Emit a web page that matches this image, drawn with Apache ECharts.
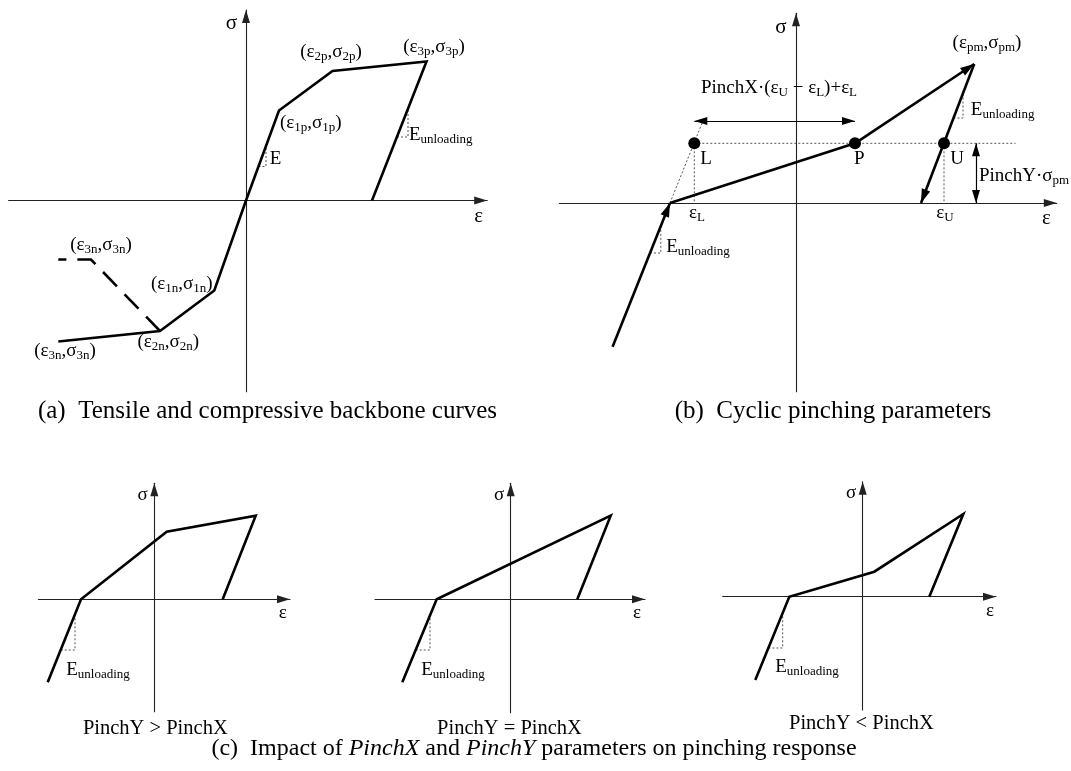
<!DOCTYPE html>
<html><head><meta charset="utf-8">
<script src="https://cdn.jsdelivr.net/npm/echarts@6/dist/echarts.min.js"></script>
<style>html,body{margin:0;padding:0;background:#fff}#c{width:1071px;height:771px}</style>
</head><body><div id="c"></div>
<script>
// ===== DATA (schematic strain / stress units, origin of each panel = 0,0) =====
// (a) Tensile and compressive backbone curves
const aTension        = [[0,0],[33,90],[86.5,129.5],[180.5,139],[126,0]];
const aCompression    = [[0,0],[-31.7,-90],[-86,-130.5],[-187.7,-141]];
const aCompressionAlt = [[-86,-130.5],[-155,-59],[-187.7,-59]];
const aSlopeE         = [[12.5,34],[20,34],[20,54.5]];
const aSlopeEunload   = [[151,63.5],[162,63.5],[162,91.8]];
const aAxisNames      = [[-14.6,177,'σ'],[232.6,-16,'ε']];
const aLabels = [
  [64.8,77,'(ε_1p,σ_1p)'], [85,148.5,'(ε_2p,σ_2p)'], [188,153.5,'(ε_3p,σ_3p)'],
  [29.5,41,'E'], [194.7,65.5,'E_unloading'],
  [-145,-44.5,'(ε_3n,σ_3n)'], [-64.3,-84,'(ε_1n,σ_1n)'],
  [-77.7,-142,'(ε_2n,σ_2n)'], [-181,-150.5,'(ε_3n,σ_3n)']
];

// (b) Cyclic pinching parameters
const bReload      = [[-183.4,-143.7],[-126,0]];
const bLoad        = [[-126,0],[59,59.7],[178.2,139]];
const bUnload      = [[178.2,139],[125,0]];
const bPoints      = [[-101.7,59.7],[59,59.7],[148,59.7]];          // L, P, U
const bGuideH      = [[-101.7,59.7],[219.5,59.7]];
const bGuideL      = [[-101.7,59.7],[-101.7,0]];
const bGuideU      = [[148,59.7],[148,0]];
const bGuideSlope  = [[-126,0],[-93.5,81]];
const bPinchXDim   = [[-101.7,82],[59,82]];
const bPinchYDim   = [[180,59.7],[180,0]];
const bSlopeUpper  = [[157.5,85],[167,85],[167,109.6]];
const bSlopeLower  = [[-146,-50],[-135.2,-50],[-135.2,-23]];
const bAxisNames   = [[-15,176,'σ'],[250.5,-15,'ε']];
const bLabels = [
  [191,160,'(ε_pm,σ_pm)'], [-17,115,'PinchX·(ε_U − ε_L)+ε_L'],
  [-90,43.7,'L'], [63.3,43.7,'P'], [161,43.7,'U'],
  [-99,-10.5,'ε_L'], [149,-10.5,'ε_U'],
  [206.6,93,'E_unloading'], [228,27.3,'PinchY·σ_pm'], [-98,-43.7,'E_unloading']
];

// (c) Impact of PinchX and PinchY
const c1Path  = [[-106.6,-83],[-73.3,0],[12.4,67.6],[101.4,83.6],[68.4,0]];
const c2Path  = [[-108.4,-83],[-74,0],[100,83.6],[66.6,0]];
const c3Path  = [[-107.4,-83.3],[-73.4,0],[11.6,25],[100.6,82.7],[66.6,0]];
const c1Slope = [[-93.6,-50.7],[-79.3,-50.7],[-79.3,-15]];
const c2Slope = [[-95,-50.7],[-80.7,-50.7],[-80.7,-16.2]];
const c3Slope = [[-94.3,-51.3],[-80,-51.3],[-80,-16.2]];
const c1Labels = [[-11.6,104.3,'σ'],[128.4,-14,'ε'],[-56.3,-70.7,'E_unloading']];
const c2Labels = [[-11.7,104.3,'σ'],[126.3,-13.7,'ε'],[-57.7,-70.7,'E_unloading']];
const c3Labels = [[-11.7,103.7,'σ'],[127.3,-14.3,'ε'],[-55.7,-70,'E_unloading']];
const subCaptions = ['PinchY > PinchX','PinchY = PinchX','PinchY < PinchX'];
const captions = ['(a)  Tensile and compressive backbone curves','(b)  Cyclic pinching parameters'];

// ===== LAYOUT =====
const FONT = "'Liberation Serif','Times New Roman',serif";
const INK = '#000';
const panels = [
  {ox:246,   oy:200.5, x:[-237.4,241.2], y:[-191.2,190.5]},
  {ox:796,   oy:203,   x:[-236.7,260.8], y:[-188.7,189.7]},
  {ox:154.3, oy:599.3, x:[-116,135.7],   y:[-112.4,116]},
  {ox:510.7, oy:599.3, x:[-135.7,134.3], y:[-113.4,116]},
  {ox:862.7, oy:596.7, x:[-140,133.3],   y:[-113.3,115]}
];
const ARROW = 'path://M0,0 L4,13 L-4,13 Z';
const HEAD = 'path://M0,0 M0,14 L4.5,28 L-4.5,28 Z';

function axisOpt(p, i, isX) {
  const r = isX ? p.x : p.y;
  return {type:'value', gridIndex:i, min:r[0], max:r[1],
    axisLine:{show:true, onZero:true, symbol:['none',ARROW], symbolSize:[8,13], symbolOffset:[0,-6.5],
      lineStyle:{color:'#222', width:1.1}},
    axisTick:{show:false}, axisLabel:{show:false}, splitLine:{show:false}};
}
function toRich(t) {
  const parts = t.split(/_([A-Za-z0-9]+)/);
  let s = '';
  parts.forEach((q,k) => { if (q) s += '{' + (k % 2 ? 's' : 'm') + '|' + q + '}'; });
  return s;
}
function labels(g, items, main, sub) {
  return {type:'scatter', xAxisIndex:g, yAxisIndex:g, silent:true, clip:false, z:10,
    symbol:'rect', symbolSize:2, itemStyle:{color:'rgba(0,0,0,0)', opacity:1},
    data: items.map(d => ({value:[d[0], d[1]], name:d[2]})),
    label:{show:true, position:[1,1], align:'center', verticalAlign:'middle',
      color:INK, opacity:1, textBorderWidth:0,
      fontFamily:FONT, fontSize:main, lineHeight:22,
      formatter: q => toRich(q.name),
      rich:{
        m:{fontFamily:FONT, fontSize:main, color:INK, lineHeight:22},
        s:{fontFamily:FONT, fontSize:sub, color:INK, lineHeight:22, padding:[9,0,0,0]}
      }}};
}
function curve(g, data, extra) {
  return Object.assign({type:'line', xAxisIndex:g, yAxisIndex:g, data, silent:true, clip:false,
    showSymbol:false, symbol:'none', z:5, animation:false,
    lineStyle:{color:'#000', width:2.6, join:'miter', cap:'butt'}}, extra || {});
}
function dotted(g, data) {
  return curve(g, data, {z:3, lineStyle:{color:'#555', width:1, type:[2,2]}});
}
// each path is split into straight segments; an arrow head is put at the path end (and start if both)
function arrows(g, paths, width, both, size) {
  const items = [];
  paths.forEach(path => {
    for (let k = 0; k < path.length - 1; k++) {
      items.push({coords:[path[k], path[k + 1]],
        symbol:[both && k === 0 ? HEAD : 'none', k === path.length - 2 ? HEAD : 'none'],
        symbolSize:[size, size]});
    }
  });
  return {type:'lines', coordinateSystem:'cartesian2d', xAxisIndex:g, yAxisIndex:g,
    silent:true, clip:false, z:6, animation:false,
    symbol:['none','none'], symbolSize:[size, size],
    lineStyle:{color:'#000', width, opacity:1, join:'miter'},
    data: items};
}

const series = [
  // (a)
  curve(0, aTension), curve(0, aCompression),
  curve(0, aCompressionAlt, {lineStyle:{color:'#000', width:2.6, type:[20,11], join:'miter'}}),
  dotted(0, aSlopeE), dotted(0, aSlopeEunload),
  labels(0, aAxisNames, 21, 14), labels(0, aLabels, 19, 13),
  // (b)
  dotted(1, bGuideH), dotted(1, bGuideL), dotted(1, bGuideU), dotted(1, bGuideSlope),
  dotted(1, bSlopeUpper), dotted(1, bSlopeLower),
  arrows(1, [bReload, bLoad, bUnload], 2.6, false, [9,28]),
  arrows(1, [bPinchXDim, bPinchYDim], 1.2, true, [8,26]),
  {type:'scatter', xAxisIndex:1, yAxisIndex:1, silent:true, z:8, symbol:'circle', symbolSize:12,
    itemStyle:{color:'#000', opacity:1}, data:bPoints},
  labels(1, bAxisNames, 21, 14), labels(1, bLabels, 19, 13),
  // (c)
  curve(2, c1Path), curve(3, c2Path), curve(4, c3Path),
  dotted(2, c1Slope), dotted(3, c2Slope), dotted(4, c3Slope),
  labels(2, c1Labels, 19, 13), labels(3, c2Labels, 19, 13), labels(4, c3Labels, 19, 13)
];

function capText(x, y, text, size, rich) {
  return {type:'text', x, y, silent:true, z:100,
    style:{text, fontFamily:FONT, fontSize:size, fill:INK, align:'center', verticalAlign:'middle',
      textAlign:'center', textVerticalAlign:'middle', rich}};
}
const capRich = {
  n:{fontFamily:FONT, fontSize:24, fill:INK, color:INK},
  i:{fontFamily:FONT, fontSize:24, fontStyle:'italic', fill:INK, color:INK}
};
const graphic = [
  capText(267.5, 411, captions[0], 25),
  capText(833, 411, captions[1], 25),
  capText(534, 749, '{n|(c)  Impact of }{i|PinchX}{n| and }{i|PinchY}{n| parameters on pinching response}', 24, capRich),
  capText(155.3, 729, subCaptions[0], 20.5),
  capText(509.5, 729, subCaptions[1], 20.5),
  capText(861.4, 724, subCaptions[2], 20.5)
];

const chart = echarts.init(document.getElementById('c'), null, {renderer:'canvas'});
chart.setOption({
  animation:false,
  backgroundColor:'#fff',
  grid: panels.map(p => ({left:p.ox + p.x[0], top:p.oy - p.y[1], width:p.x[1] - p.x[0], height:p.y[1] - p.y[0],
    containLabel:false, outerBoundsMode:'none'})),
  xAxis: panels.map((p,i) => axisOpt(p, i, true)),
  yAxis: panels.map((p,i) => axisOpt(p, i, false)),
  series,
  graphic
});
</script></body></html>
